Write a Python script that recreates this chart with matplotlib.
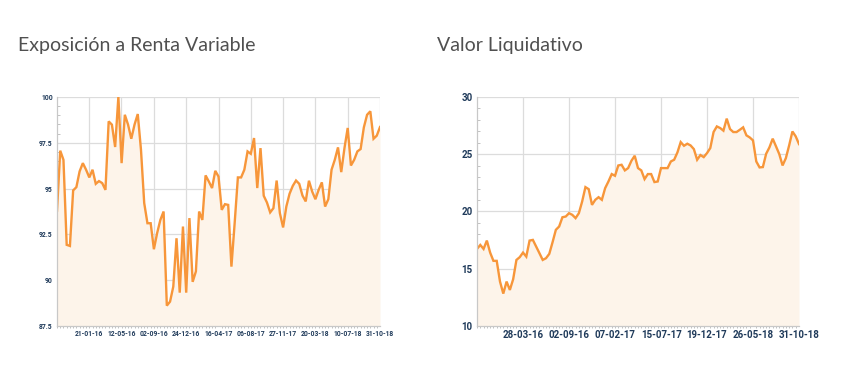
import pandas as pd
import matplotlib
matplotlib.use('Agg')
import matplotlib.pyplot as plt
import matplotlib.dates as mdates
from matplotlib.ticker import FixedLocator, MultipleLocator, FuncFormatter


# Exposición a renta variable (%), serie
renta_inicio = '2015-10-01'
renta_fin = '2018-10-31'
renta_valores = [
    93.79, 97.07, 96.57, 91.93, 91.87, 94.90, 95.08, 95.94, 96.39, 96.03,
    95.61, 96.03, 95.26, 95.41, 95.30, 94.93, 98.67, 98.49, 97.27, 100.0,
    96.39, 99.03, 98.49, 97.72, 98.49, 99.07, 97.12, 94.21, 93.11, 93.11,
    91.69, 92.57, 93.29, 93.75, 88.61, 88.83, 89.65, 92.29, 89.32, 92.93,
    89.32, 93.39, 89.91, 90.48, 93.75, 93.29, 95.72, 95.39, 95.03, 95.97,
    95.66, 93.84, 94.15, 94.11, 90.74, 93.11, 95.61, 95.61, 96.03, 97.03,
    96.90, 97.76, 95.03, 97.21, 94.61, 94.24, 93.70, 93.93, 95.44, 93.66,
    92.88, 94.02, 94.72, 95.15, 95.44, 95.26, 94.62, 94.30, 95.43, 94.84,
    94.42, 94.93, 95.34, 94.02, 94.42, 96.03, 96.57, 97.25, 95.90, 97.21,
    98.31, 96.26, 96.57, 97.03, 97.16, 98.34, 99.03, 99.22, 97.72, 97.89,
    98.36,
]
renta_ticks = ['21-01-16', '12-05-16', '02-09-16', '24-12-16', '16-04-17',
               '06-08-17', '27-11-17', '20-03-18', '10-07-18', '31-10-18']
renta_yticks = [87.5, 90, 92.5, 95, 97.5, 100]

# Valor liquidativo
vl_inicio = '2015-10-21'
vl_fin = '2018-10-31'
vl_valores = [
    16.73, 17.08, 16.73, 17.46, 16.41, 15.69, 15.69, 13.88, 12.83, 13.88,
    13.15, 14.08, 15.77, 16.01, 16.41, 16.06, 17.46, 17.52, 16.94, 16.36,
    15.77, 15.92, 16.30, 17.32, 18.40, 18.69, 19.50, 19.56, 19.85, 19.71,
    19.42, 19.85, 20.87, 22.13, 21.95, 20.58, 21.02, 21.25, 21.02, 22.04,
    22.62, 23.27, 23.12, 24.02, 24.08, 23.59, 23.79, 24.43, 24.87, 23.79,
    23.59, 22.83, 23.27, 23.27, 22.57, 22.62, 23.79, 23.79, 23.79, 24.37,
    24.52, 25.16, 26.06, 25.74, 25.92, 25.77, 25.45, 24.52, 24.93, 24.75,
    25.10, 25.54, 26.94, 27.43, 27.29, 27.06, 28.11, 27.20, 26.94, 26.94,
    27.14, 27.35, 26.65, 26.47, 26.21, 24.37, 23.85, 23.88, 25.04, 25.60,
    26.36, 25.69, 25.01, 24.02, 24.66, 25.77, 26.99, 26.56, 25.89,
]
vl_ticks = ['28-03-16', '02-09-16', '07-02-17', '15-07-17', '19-12-17',
            '26-05-18', '31-10-18']
vl_yticks = [10, 15, 20, 25, 30]

NARANJA = '#f7963a'
RELLENO = '#fdf4ea'
GRID = '#dcdcdc'
TEXTO_EJES = '#1f3a5a'
LABEL_FONT = ['Roboto', 'DejaVu Sans']


def dibujar(ax, inicio, fin, valores, ticks, yticks, ylim, minor_y, fsize):
    fechas = pd.date_range(inicio, fin, periods=len(valores))
    ax.fill_between(fechas, valores, ylim[0], color=RELLENO, lw=0)
    ax.plot(fechas, valores, color=NARANJA, lw=1.7, solid_joinstyle='miter')
    ax.set_xlim(fechas[0], fechas[-1])
    ax.set_ylim(*ylim)

    tick_fechas = pd.to_datetime(ticks, format='%d-%m-%y')
    ax.xaxis.set_major_locator(FixedLocator(mdates.date2num(tick_fechas)))
    ax.xaxis.set_major_formatter(mdates.DateFormatter('%d-%m-%y'))
    ax.xaxis.set_minor_locator(FixedLocator(mdates.date2num(fechas)))
    ax.yaxis.set_major_locator(FixedLocator(yticks))
    ax.yaxis.set_major_formatter(FuncFormatter(lambda v, p: f'{v:g}'))
    ax.yaxis.set_minor_locator(MultipleLocator(minor_y))

    ax.grid(True, which='major', color=GRID, lw=0.9)
    ax.set_axisbelow(True)
    for lado in ['top', 'right']:
        ax.spines[lado].set_visible(False)
    for lado in ['left', 'bottom']:
        ax.spines[lado].set_color('#c8c8c8')
        ax.spines[lado].set_linewidth(0.9)

    ax.tick_params(axis='both', which='major', length=0, pad=3,
                   labelcolor=TEXTO_EJES, labelsize=fsize)
    ax.tick_params(axis='y', which='minor', direction='in', length=2.5,
                   color='#b8b8b8', width=0.6)
    ax.tick_params(axis='x', which='minor', direction='out', length=1.5,
                   color='#b8b8b8', width=0.6)
    for lbl in ax.get_xticklabels() + ax.get_yticklabels():
        lbl.set_fontfamily(LABEL_FONT)
        lbl.set_fontweight('bold')


fig = plt.figure(figsize=(8.53, 3.82), dpi=100)

ax1 = fig.add_axes([57 / 853, 1 - 326 / 382, 323 / 853, 229 / 382])
dibujar(ax1, renta_inicio, renta_fin, renta_valores, renta_ticks,
        renta_yticks, (87.5, 100), 0.5, 4.9)

ax2 = fig.add_axes([477 / 853, 1 - 326 / 382, 322 / 853, 229 / 382])
dibujar(ax2, vl_inicio, vl_fin, vl_valores, vl_ticks,
        vl_yticks, (10, 30), 1, 7)

fig.text(18 / 853, 1 - 46 / 382, 'Exposición a Renta Variable',
         fontsize=14, fontfamily='Lato', fontweight='normal',
         color='#505050', va='center', ha='left')
fig.text(437 / 853, 1 - 46 / 382, 'Valor Liquidativo',
         fontsize=14, fontfamily='Lato', fontweight='normal',
         color='#505050', va='center', ha='left')

fig.savefig('out.png', dpi=100, facecolor='white')
